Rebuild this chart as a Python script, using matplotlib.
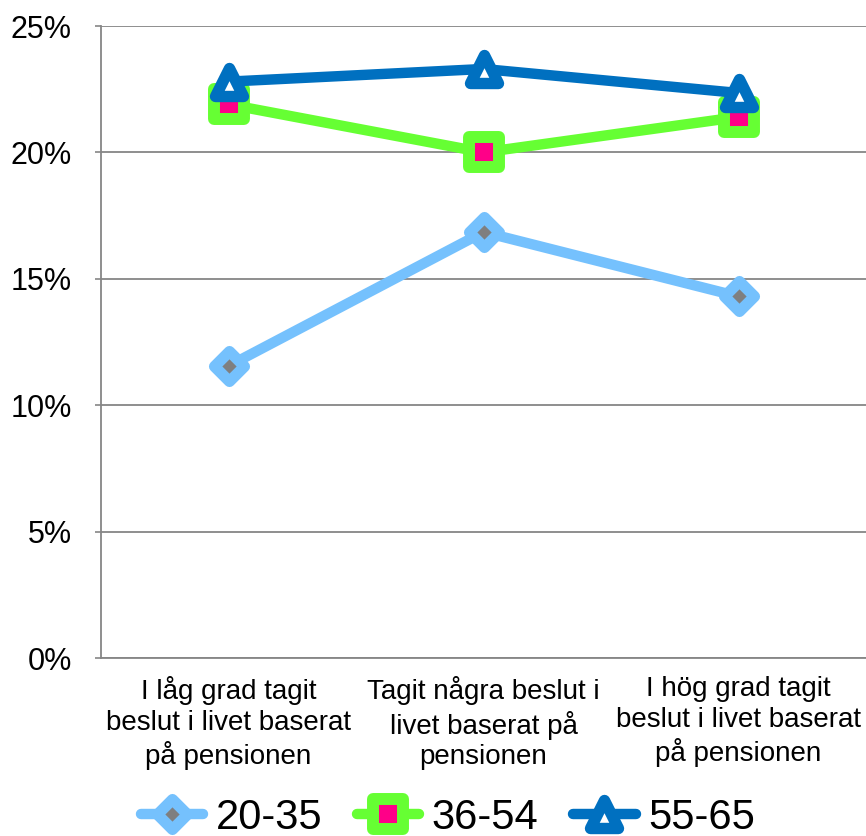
import matplotlib
matplotlib.use('Agg')
import matplotlib.pyplot as plt
from matplotlib.markers import MarkerStyle
from matplotlib.ticker import PercentFormatter

plt.rcParams['font.family'] = ['Liberation Sans', 'DejaVu Sans']

categories = [
    'I låg grad tagit\nbeslut i livet baserat\npå pensionen',
    'Tagit några beslut i\nlivet baserat på\npensionen',
    'I hög grad tagit\nbeslut i livet baserat\npå pensionen',
]
groups = ['20-35', '36-54', '55-65']
share_20_35 = [11.55, 16.85, 14.3]
share_36_54 = [21.9, 20.0, 21.4]
share_55_65 = [22.8, 23.3, 22.35]

# line colour, inner fill, marker shape, marker size, edge width
styles = [
    ('#75C1FD', '#7F7F7F', 'D', 15.5, 8.0),
    ('#66FF33', '#FF0088', 's', 21.0, 8.6),
    ('#0070C0', '#FFFFFF', '^', 19.5, 8.2),
]

fig = plt.figure(figsize=(8.66, 8.36), dpi=100)
ax = fig.add_axes([101 / 866, 178 / 836, 765 / 866, 632 / 836])

x = range(len(categories))
for name, vals, (col, inner, mk, ms, mew) in zip(groups, [share_20_35, share_36_54, share_55_65], styles):
    ax.plot(x, vals, color=col, lw=7.5, solid_capstyle='round', solid_joinstyle='round',
            marker=MarkerStyle(mk, joinstyle='round'), markersize=ms,
            markerfacecolor=inner, markeredgecolor=col, markeredgewidth=mew,
            label=name, zorder=3)

ax.set_xlim(-0.5, 2.5)
ax.set_ylim(0, 25)
ax.set_yticks([0, 5, 10, 15, 20, 25])
ax.yaxis.set_major_formatter(PercentFormatter(decimals=0))
ax.set_xticks(list(x))
ax.set_xticklabels(categories, fontsize=20, linespacing=1.24)
ax.tick_params(axis='x', length=0, pad=13)
ax.tick_params(axis='y', labelsize=22, length=4, width=1.2, color='#868686', pad=17)

ax.grid(axis='y', color='#868686', lw=1.3)
ax.set_axisbelow(True)
for side in ['top', 'right']:
    ax.spines[side].set_visible(False)
for side in ['left', 'bottom']:
    ax.spines[side].set_color('#868686')
    ax.spines[side].set_linewidth(1.3)

fig.legend(loc='lower center', bbox_to_anchor=(0.517, -0.027), ncol=3, frameon=False,
           fontsize=30, handlelength=1.5, handletextpad=0.3, columnspacing=0.83,
           borderpad=0)

fig.savefig('out.png', dpi=100)
